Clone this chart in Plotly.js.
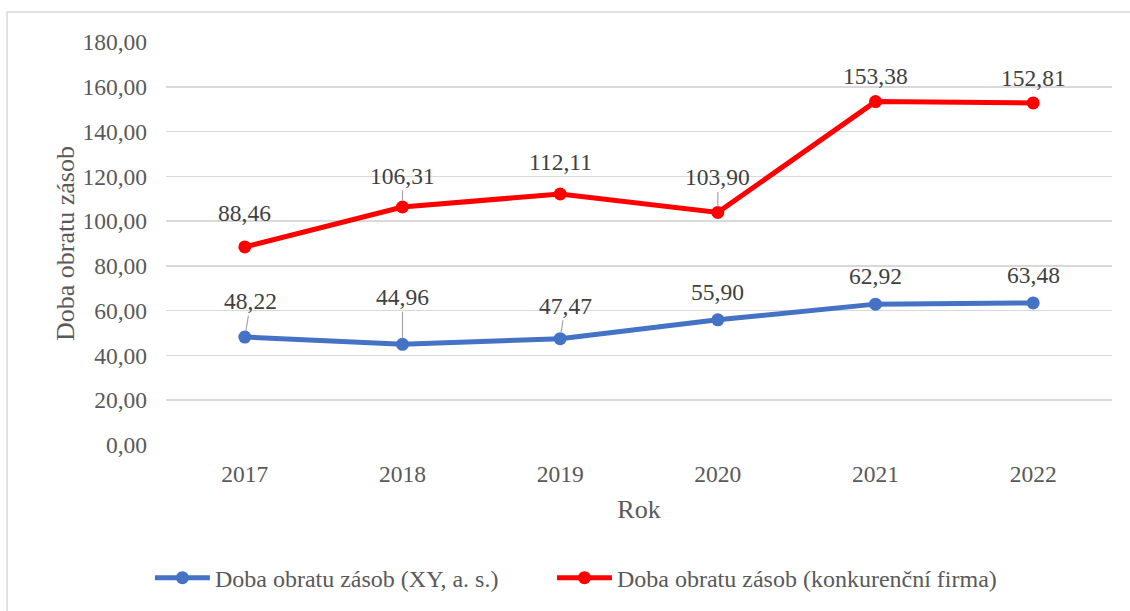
<!DOCTYPE html>
<html>
<head>
<meta charset="utf-8">
<script src="https://cdn.plot.ly/plotly-3.0.1.min.js"></script>
<style>html,body{margin:0;padding:0;background:#fff;}#chart{width:1130px;height:611px;}</style>
</head>
<body>
<div id="chart"></div>
<script>
const years = ['2017', '2018', '2019', '2020', '2021', '2022'];
const xyValues = [48.22, 44.96, 47.47, 55.90, 62.92, 63.48];
const competitorValues = [88.46, 106.31, 112.11, 103.90, 153.38, 152.81];
const seriesNames = ['Doba obratu zásob (XY, a. s.)', 'Doba obratu zásob (konkurenční firma)'];
const yTickVals = [0, 20, 40, 60, 80, 100, 120, 140, 160, 180];

// label offsets (pixels) and whether a leader line is drawn
const xyLabelOffsets = [[6, -36], [0, -47], [5, -33], [0, -28], [0, -28], [0, -28]];
const xyLeader = [true, true, true, false, false, false];
const compLabelOffsets = [[0, -34], [0, -31], [0, -32], [0, -35], [0, -26], [0, -25]];
const compLeader = [false, true, false, true, false, false];

const fmt = v => v.toFixed(2).replace('.', ',');
const serif = 'Liberation Serif, Times New Roman, DejaVu Serif, serif';
const gray = '#595959';

const traces = [
  {x: years, y: xyValues, name: seriesNames[0], type: 'scatter', mode: 'lines+markers',
   line: {color: '#4472C4', width: 5}, marker: {color: '#4472C4', size: 13}, legend: 'legend'},
  {x: years, y: competitorValues, name: seriesNames[1], type: 'scatter', mode: 'lines+markers',
   line: {color: '#FF0000', width: 5}, marker: {color: '#FF0000', size: 13}, legend: 'legend2'}
];

function mkAnn(vals, offs, leaders) {
  return vals.map((v, i) => ({
    x: i, y: v, xref: 'x', yref: 'y', text: fmt(v),
    showarrow: true, ax: offs[i][0], ay: offs[i][1], arrowhead: 0, arrowwidth: 1.2,
    arrowcolor: leaders[i] ? '#a6a6a6' : 'rgba(255,255,255,0)', standoff: 6,
    font: {family: serif, size: 23.5, color: '#404040'}
  }));
}

const legendBase = {orientation: 'h', xanchor: 'left', yanchor: 'middle', y: -0.327,
  font: {family: serif, size: 24, color: gray}, itemwidth: 55, bgcolor: 'rgba(0,0,0,0)'};

const layout = {
  width: 1130, height: 611,
  margin: {l: 166, r: 18, t: 42, b: 165},
  paper_bgcolor: '#fff', plot_bgcolor: '#fff',
  font: {family: serif, color: gray, size: 23.5},
  showlegend: true,
  legend: Object.assign({}, legendBase, {x: -0.017}),
  legend2: Object.assign({}, legendBase, {x: 0.408}),
  xaxis: {type: 'category', range: [-0.5, 5.5], showgrid: false, zeroline: false, showline: false,
          ticks: '', tickfont: {family: serif, size: 23.5, color: gray}, ticklabelstandoff: 12,
          title: {text: 'Rok', font: {family: serif, size: 26, color: gray}, standoff: 14}},
  yaxis: {range: [0, 180], tickvals: yTickVals, ticktext: yTickVals.map(fmt), showgrid: true,
          gridcolor: '#d9d9d9', gridwidth: 1.5, zeroline: false, showline: false, ticks: '',
          tickfont: {family: serif, size: 23.5, color: gray}, ticklabelstandoff: 18,
          title: {text: 'Doba obratu zásob', font: {family: serif, size: 26, color: gray}, standoff: 0}},
  annotations: mkAnn(xyValues, xyLabelOffsets, xyLeader).concat(mkAnn(competitorValues, compLabelOffsets, compLeader)),
  shapes: [{type: 'rect', xref: 'paper', yref: 'paper', x0: -0.168, x1: 1.1, y0: -0.45, y1: 1.0743,
            line: {color: '#d9d9d9', width: 1.5}, fillcolor: 'rgba(0,0,0,0)', layer: 'below'}]
};

Plotly.newPlot('chart', traces, layout, {displayModeBar: false, staticPlot: true});
</script>
</body>
</html>
